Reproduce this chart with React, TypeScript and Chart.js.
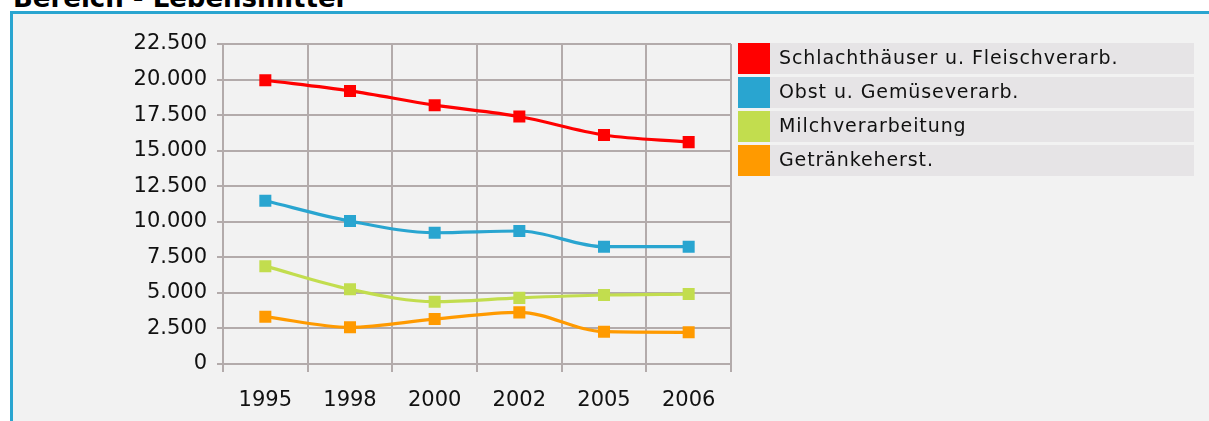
import React, { useEffect, useRef } from "react";
import { Chart, registerables } from "chart.js";

Chart.register(...registerables);

const categories = ["1995", "1998", "2000", "2002", "2005", "2006"];
const seriesNames = [
  "Schlachthäuser u. Fleischverarb.",
  "Obst u. Gemüseverarb.",
  "Milchverarbeitung",
  "Getränkeherst.",
];
const schlacht = [19950, 19200, 18200, 17400, 16100, 15600];
const obst = [11480, 10050, 9230, 9350, 8250, 8250];
const milch = [6880, 5250, 4380, 4650, 4850, 4920];
const getraenke = [3330, 2580, 3160, 3630, 2270, 2230];
const colors = ["#ff0000", "#29a5d0", "#c2dd4e", "#ff9a00"];
const yMin = 0;
const yMax = 22500;
const yStep = 2500;

const fmt = (v: number) => String(Math.round(v)).replace(/\B(?=(\d{3})+(?!\d))/g, ".");

const legendPlugin = {
  id: "boxLegend",
  afterDraw(chart: any) {
    const ctx = chart.ctx;
    ctx.save();
    const x0 = 738;
    const y0 = 43;
    chart.data.datasets.forEach((ds: any, i: number) => {
      const y = y0 + i * 34;
      ctx.fillStyle = "#e6e4e6";
      ctx.fillRect(x0 + 32, y, 424, 31);
      ctx.fillStyle = ds.borderColor;
      ctx.fillRect(x0, y, 32, 31);
      ctx.fillStyle = "#111111";
      ctx.font = "19px 'DejaVu Sans'";
      try { (ctx as any).letterSpacing = "0.9px"; } catch (e) {}
      ctx.textAlign = "left";
      ctx.textBaseline = "middle";
      ctx.fillText(ds.label, x0 + 41, y + 16);
      try { (ctx as any).letterSpacing = "0px"; } catch (e) {}
    });
    ctx.restore();
  },
};

export default function App() {
  const ref = useRef<HTMLCanvasElement | null>(null);
  useEffect(() => {
    document.body.style.margin = "0";
    const values = [schlacht, obst, milch, getraenke];
    const chart = new Chart(ref.current as HTMLCanvasElement, {
      type: "line",
      data: {
        labels: categories,
        datasets: values.map((v, i) => ({
          label: seriesNames[i],
          data: v,
          borderColor: colors[i],
          backgroundColor: colors[i],
          pointBackgroundColor: colors[i],
          pointBorderWidth: 0,
          pointStyle: "rect",
          pointRadius: 8.5,
          borderWidth: 3.2,
          cubicInterpolationMode: "monotone",
          fill: false,
        })),
      },
      options: {
        animation: false,
        responsive: false,
        devicePixelRatio: 1,
        layout: { padding: { left: 0, top: 44, right: 478, bottom: 0 } },
        plugins: { legend: { display: false }, tooltip: { enabled: false } },
        scales: {
          x: {
            offset: true,
            grid: { color: "#b3abab", lineWidth: 2, offset: true, tickLength: 8, drawTicks: true },
            border: { color: "#b3abab", width: 2 },
            ticks: { color: "#111111", font: { family: "DejaVu Sans", size: 21 }, padding: 16, maxRotation: 0 },
            afterFit: (s: any) => { s.height = 57; },
          },
          y: {
            min: yMin,
            max: yMax,
            grid: { color: "#b3abab", lineWidth: 2, tickLength: 6 },
            border: { color: "#b3abab", width: 2 },
            ticks: {
              stepSize: yStep,
              color: "#111111",
              font: { family: "DejaVu Sans", size: 21 },
              padding: 10,
              callback: (v: any) => fmt(Number(v)),
            },
            afterFit: (s: any) => { s.width = 223; },
          },
        },
      },
      plugins: [legendPlugin],
    });
    return () => chart.destroy();
  }, []);

  return (
    <div style={{ position: "relative", width: 1209, height: 421, overflow: "hidden", background: "#ffffff" }}>
      <div
        style={{
          position: "absolute",
          left: 13,
          top: -15,
          fontFamily: "'DejaVu Sans', Verdana, sans-serif",
          fontWeight: "bold",
          fontSize: 26,
          lineHeight: "26px",
          color: "#000",
          whiteSpace: "nowrap",
        }}
      >
        Bereich - Lebensmittel
      </div>
      <div
        style={{
          position: "absolute",
          left: 10,
          top: 11,
          width: 1260,
          height: 480,
          border: "3px solid #2aa5d0",
          background: "#f2f2f2",
          boxSizing: "border-box",
        }}
      />
      <canvas ref={ref} width={1209} height={421} style={{ position: "absolute", left: 0, top: 0 }} />
    </div>
  );
}
